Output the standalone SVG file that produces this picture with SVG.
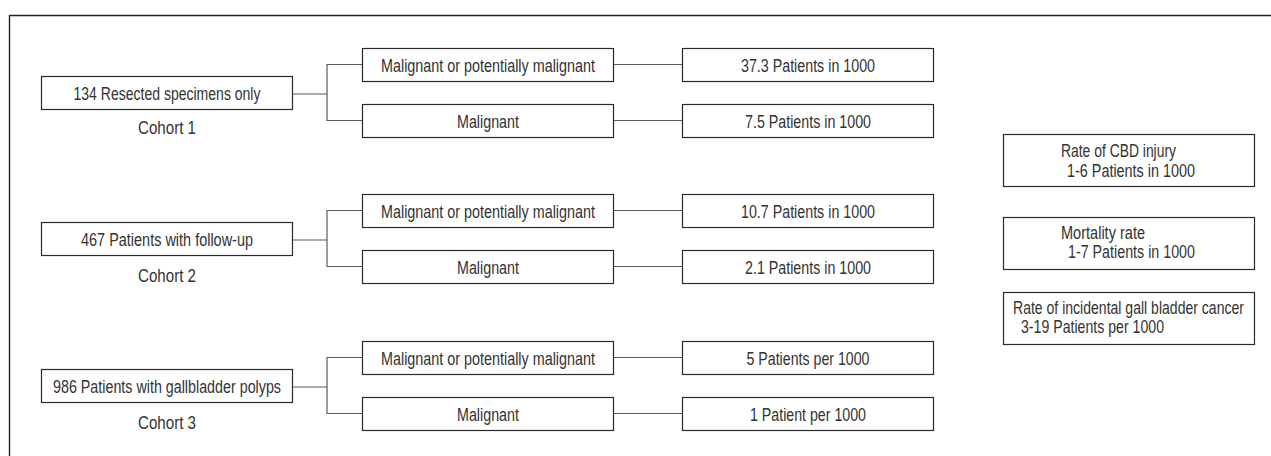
<svg xmlns="http://www.w3.org/2000/svg" width="1271" height="456" viewBox="0 0 1271 456">
<style>
.box{fill:#fff;stroke:#2b2b2b;stroke-width:1.2}
.ln{fill:none;stroke:#5a5a5a;stroke-width:1.2}
.frame{fill:none;stroke:#222;stroke-width:1.4}
text{font-family:"Liberation Sans",Arial,sans-serif;font-size:17.5px;fill:#333}
.c{text-anchor:middle}
</style>
<rect width="1271" height="456" fill="#fff"/>
<path class="frame" d="M9.5,456 V15.5 H1271"/>
<g id="connectors">
<path class="ln" d="M292,94 H327 M362,64.5 H327 V120.5 H362 M613,64.5 H682 M613,120.5 H682"/>
<path class="ln" d="M292,240 H327 M362,210.5 H327 V266.5 H362 M613,210.5 H682 M613,266.5 H682"/>
<path class="ln" d="M292,387 H327 M362,357.5 H327 V413.5 H362 M613,357.5 H682 M613,413.5 H682"/>
</g>
<g id="cohort1">
<rect class="box" x="41.5" y="76.5" width="251" height="33"/>
<text class="c" x="167" y="100" textLength="187" lengthAdjust="spacingAndGlyphs">134 Resected specimens only</text>
<text class="c" x="167" y="134" textLength="58" lengthAdjust="spacingAndGlyphs">Cohort 1</text>
</g>
<g id="c1-mpm"><rect class="box" x="362.5" y="48.5" width="251" height="33"/><text class="c" x="488" y="72" textLength="214" lengthAdjust="spacingAndGlyphs">Malignant or potentially malignant</text></g>
<g id="c1-m"><rect class="box" x="362.5" y="104.5" width="251" height="33"/><text class="c" x="488" y="128" textLength="62" lengthAdjust="spacingAndGlyphs">Malignant</text></g>
<g id="c1-r1"><rect class="box" x="682.5" y="48.5" width="251" height="33"/><text class="c" x="808" y="72" textLength="134" lengthAdjust="spacingAndGlyphs">37.3 Patients in 1000</text></g>
<g id="c1-r2"><rect class="box" x="682.5" y="104.5" width="251" height="33"/><text class="c" x="808" y="128" textLength="126" lengthAdjust="spacingAndGlyphs">7.5 Patients in 1000</text></g>
<g id="cohort2">
<rect class="box" x="41.5" y="222.5" width="251" height="33"/>
<text class="c" x="167" y="246" textLength="172" lengthAdjust="spacingAndGlyphs">467 Patients with follow-up</text>
<text class="c" x="167" y="282" textLength="58" lengthAdjust="spacingAndGlyphs">Cohort 2</text>
</g>
<g id="c2-mpm"><rect class="box" x="362.5" y="194.5" width="251" height="33"/><text class="c" x="488" y="218" textLength="214" lengthAdjust="spacingAndGlyphs">Malignant or potentially malignant</text></g>
<g id="c2-m"><rect class="box" x="362.5" y="250.5" width="251" height="33"/><text class="c" x="488" y="274" textLength="62" lengthAdjust="spacingAndGlyphs">Malignant</text></g>
<g id="c2-r1"><rect class="box" x="682.5" y="194.5" width="251" height="33"/><text class="c" x="808" y="218" textLength="134" lengthAdjust="spacingAndGlyphs">10.7 Patients in 1000</text></g>
<g id="c2-r2"><rect class="box" x="682.5" y="250.5" width="251" height="33"/><text class="c" x="808" y="274" textLength="126" lengthAdjust="spacingAndGlyphs">2.1 Patients in 1000</text></g>
<g id="cohort3">
<rect class="box" x="41.5" y="369.5" width="251" height="33"/>
<text class="c" x="167" y="393" textLength="228" lengthAdjust="spacingAndGlyphs">986 Patients with gallbladder polyps</text>
<text class="c" x="167" y="429" textLength="58" lengthAdjust="spacingAndGlyphs">Cohort 3</text>
</g>
<g id="c3-mpm"><rect class="box" x="362.5" y="341.5" width="251" height="33"/><text class="c" x="488" y="365" textLength="214" lengthAdjust="spacingAndGlyphs">Malignant or potentially malignant</text></g>
<g id="c3-m"><rect class="box" x="362.5" y="397.5" width="251" height="33"/><text class="c" x="488" y="421" textLength="62" lengthAdjust="spacingAndGlyphs">Malignant</text></g>
<g id="c3-r1"><rect class="box" x="682.5" y="341.5" width="251" height="33"/><text class="c" x="808" y="365" textLength="123" lengthAdjust="spacingAndGlyphs">5 Patients per 1000</text></g>
<g id="c3-r2"><rect class="box" x="682.5" y="397.5" width="251" height="33"/><text class="c" x="808" y="421" textLength="116" lengthAdjust="spacingAndGlyphs">1 Patient per 1000</text></g>
<g id="cbd">
<rect class="box" x="1003.5" y="134.5" width="251" height="52"/>
<text x="1061" y="157" textLength="115" lengthAdjust="spacingAndGlyphs">Rate of CBD injury</text>
<text x="1067" y="176.5" textLength="128" lengthAdjust="spacingAndGlyphs">1-6 Patients in 1000</text>
</g>
<g id="mortality">
<rect class="box" x="1003.5" y="217.5" width="251" height="52"/>
<text x="1061" y="239" textLength="84" lengthAdjust="spacingAndGlyphs">Mortality rate</text>
<text x="1068" y="257.5" textLength="127" lengthAdjust="spacingAndGlyphs">1-7 Patients in 1000</text>
</g>
<g id="gbcancer">
<rect class="box" x="1003.5" y="292.5" width="251" height="52"/>
<text x="1013" y="314" textLength="231" lengthAdjust="spacingAndGlyphs">Rate of incidental gall bladder cancer</text>
<text x="1021" y="333" textLength="143" lengthAdjust="spacingAndGlyphs">3-19 Patients per 1000</text>
</g>
</svg>
